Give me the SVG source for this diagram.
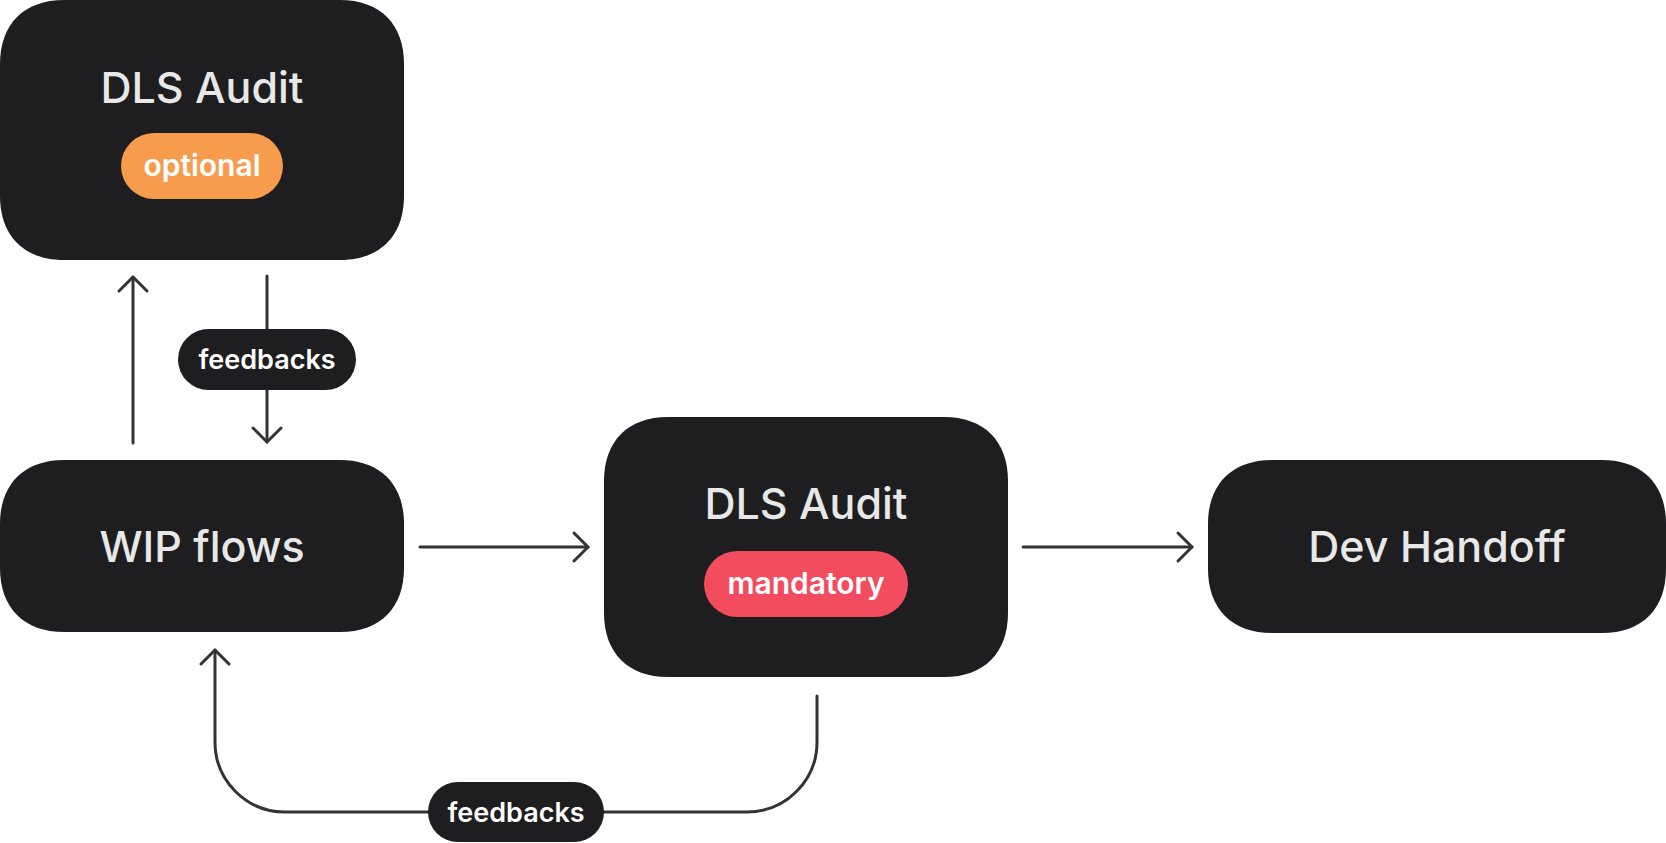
<svg xmlns="http://www.w3.org/2000/svg" width="1666" height="843" viewBox="0 0 1666 843">
<style>
.box{fill:#1E1E20}
.title{font-family:Inter,"Liberation Sans",sans-serif;font-size:43px;font-weight:500;fill:#E8E8E8;text-anchor:middle}
.pilltxt{font-family:Inter,"Liberation Sans",sans-serif;font-size:30px;font-weight:600;fill:#FFFFFF;text-anchor:middle}
.fbtxt{font-family:Inter,"Liberation Sans",sans-serif;font-size:27px;font-weight:600;fill:#FFFFFF;text-anchor:middle}
.conn{fill:none;stroke:#333335;stroke-width:3;stroke-linecap:round;stroke-linejoin:round}
</style>
<defs>
<marker id="chev" viewBox="-18 -17 21 34" refX="0" refY="0" markerWidth="21" markerHeight="34" markerUnits="userSpaceOnUse" orient="auto">
<path d="M -14 -14 L 0 0 L -14 14" fill="none" stroke="#333335" stroke-width="3" stroke-linecap="round" stroke-linejoin="round"/>
</marker>
</defs>
<rect width="1666" height="843" fill="#FFFFFF"/>
<g id="connectors">
<path class="conn" d="M 133 443 V 277" marker-end="url(#chev)"/>
<path class="conn" d="M 267 276 V 442" marker-end="url(#chev)"/>
<path class="conn" d="M 420 547 H 588" marker-end="url(#chev)"/>
<path class="conn" d="M 1023 547 H 1192" marker-end="url(#chev)"/>
<path class="conn" d="M 817 696 V 742 A 70 70 0 0 1 747 812 H 285 A 70 70 0 0 1 215 742 V 650" marker-end="url(#chev)"/>
</g>
<g id="node-audit-optional">
<path class="box" d="M 64 0 H 340 C 380 0 404 24 404 64 V 196 C 404 236 380 260 340 260 H 64 C 24 260 0 236 0 196 V 64 C 0 24 24 0 64 0 Z"/>
<text class="title" x="202" y="103">DLS Audit</text>
<rect x="121" y="133" width="162" height="66" rx="33" fill="#F79C4C"/>
<text class="pilltxt" x="202" y="176">optional</text>
</g>
<g id="node-wip">
<path class="box" d="M 64 460 H 340 C 380 460 404 484 404 524 V 568 C 404 608 380 632 340 632 H 64 C 24 632 0 608 0 568 V 524 C 0 484 24 460 64 460 Z"/>
<text class="title" x="202" y="562">WIP flows</text>
</g>
<g id="node-audit-mandatory">
<path class="box" d="M 668 417 H 944 C 984 417 1008 441 1008 481 V 613 C 1008 653 984 677 944 677 H 668 C 628 677 604 653 604 613 V 481 C 604 441 628 417 668 417 Z"/>
<text class="title" x="806" y="519">DLS Audit</text>
<rect x="704" y="551" width="204" height="66" rx="33" fill="#F34C5F"/>
<text class="pilltxt" x="806" y="594">mandatory</text>
</g>
<g id="node-dev-handoff">
<path class="box" d="M 1272 460 H 1602 C 1642 460 1666 484 1666 524 V 569 C 1666 609 1642 633 1602 633 H 1272 C 1232 633 1208 609 1208 569 V 524 C 1208 484 1232 460 1272 460 Z"/>
<text class="title" x="1437" y="562">Dev Handoff</text>
</g>
<g id="label-feedbacks-top">
<rect class="box" x="178" y="329" width="178" height="61" rx="30.5"/>
<text class="fbtxt" x="267" y="369">feedbacks</text>
</g>
<g id="label-feedbacks-bottom">
<rect class="box" x="428" y="782" width="176" height="60" rx="30"/>
<text class="fbtxt" x="516" y="822">feedbacks</text>
</g>
</svg>
